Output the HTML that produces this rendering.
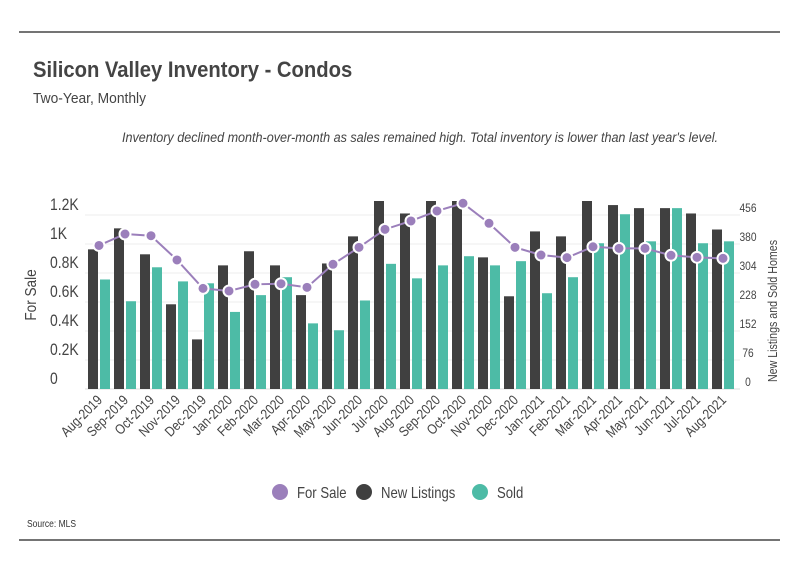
<!DOCTYPE html>
<html><head><meta charset="utf-8"><style>
html,body{margin:0;padding:0;background:#fff;}
svg{display:block;}
text{font-family:"Liberation Sans Narrow","Liberation Sans",sans-serif;}
</style></head><body>
<svg id="c" width="799" height="575" viewBox="0 0 799 575">
<line x1="19" y1="32" x2="780" y2="32" stroke="#222" stroke-width="1.3"/>
<text transform="translate(33,77) scale(0.92,1)" font-size="22" font-weight="bold" fill="#444">Silicon Valley Inventory - Condos</text>
<text transform="translate(33,103) scale(0.92,1)" font-size="15" fill="#444">Two-Year, Monthly</text>
<text transform="translate(420,142) scale(0.9,1)" font-size="14" font-style="italic" fill="#444" text-anchor="middle">Inventory declined month-over-month as sales remained high. Total inventory is lower than last year's level.</text>
<text transform="translate(27,527) scale(0.85,1)" font-size="10" fill="#333">Source:  MLS</text>
<line x1="19" y1="540" x2="780" y2="540" stroke="#222" stroke-width="1.3"/>
<g id="grid"></g><g id="bars"></g><g id="line"></g><g id="axes"></g>
<text transform="translate(36,295) rotate(-90) scale(0.85,1)" font-size="16" fill="#444" text-anchor="middle">For Sale</text>
<text transform="translate(777,311) rotate(-90) scale(0.82,1)" font-size="13" fill="#444" text-anchor="middle">New Listings and Sold Homes</text>
<g>
<g><circle cx="280" cy="492" r="8" fill="#9b7fbb"/><text transform="translate(297,498) scale(0.82,1)" font-size="16" fill="#444">For Sale</text></g>
<g><circle cx="364" cy="492" r="8" fill="#404040"/><text transform="translate(381,498) scale(0.82,1)" font-size="16" fill="#444">New Listings</text></g>
<g><circle cx="480" cy="492" r="8" fill="#4dbba6"/><text transform="translate(497,498) scale(0.82,1)" font-size="16" fill="#444">Sold</text></g>
</g>
</svg>
<script>
const months=["Aug-2019","Sep-2019","Oct-2019","Nov-2019","Dec-2019","Jan-2020","Feb-2020","Mar-2020","Apr-2020","May-2020","Jun-2020","Jul-2020","Aug-2020","Sep-2020","Oct-2020","Nov-2020","Dec-2020","Jan-2021","Feb-2021","Mar-2021","Apr-2021","May-2021","Jun-2021","Jul-2021","Aug-2021"];
const newListings=[366,421,353,222,130,324,361,324,246,329,400,500,460,500,500,345,243,413,400,500,482,474,474,460,418];
const sold=[287,230,319,282,277,202,246,293,172,154,232,328,290,324,348,324,335,251,293,382,458,387,474,382,387];
const forSale=[990,1069,1057,890,694,676,722,726,701,860,977,1101,1159,1228,1281,1143,977,924,906,981,970,970,922,908,901];
const leftTicks=[0,200,400,600,800,1000,1200];
const leftTickLabels=["0","0.2K","0.4K","0.6K","0.8K","1K","1.2K"];
const rightTicks=[0,76,152,228,304,380,456];

const NS="http://www.w3.org/2000/svg";
const y0=389,yTop=215,clipTop=201;
const yL=v=>y0-(v/1200)*(y0-yTop);
const yR=v=>Math.max(clipTop,y0-(v/456)*(y0-yTop));
const gx=i=>88+i*26;
function mk(tag,attrs,parent){const e=document.createElementNS(NS,tag);for(const k in attrs)e.setAttribute(k,attrs[k]);parent.appendChild(e);return e;}
const grid=document.getElementById('grid'),bars=document.getElementById('bars'),line=document.getElementById('line'),axes=document.getElementById('axes');
leftTicks.forEach((t,i)=>{
  const y=yL(t);
  const g=mk('line',{x1:85,x2:740,y1:y,y2:y,stroke:i==0?'#ddd':'#ececec','stroke-width':1},grid);
  
  
  const tx=mk('text',{transform:`translate(50,${y-5}) scale(0.82,1)`,'font-size':17,fill:'#444'},axes);tx.textContent=leftTickLabels[i];
  
  
});
rightTicks.forEach(t=>{
  const y=y0-(t/456)*(y0-yTop);
  const tx=mk('text',{transform:`translate(748,${y-3}) scale(0.85,1)`,'font-size':12,fill:'#444','text-anchor':'middle'},axes);tx.textContent=t;
  
  
});
months.forEach((m,i)=>{
  const x=gx(i);
  let b=mk('rect',{x:x,y:yR(newListings[i]),width:10,height:y0-yR(newListings[i]),fill:'#404040'},bars);
  
  
  b=mk('rect',{x:x+12,y:yR(sold[i]),width:10,height:y0-yR(sold[i]),fill:'#4dbba6'},bars);
  
  
  const tx=mk('text',{transform:`translate(${x+15},${y0+12}) rotate(-45) scale(0.85,1)`,'font-size':14,fill:'#444','text-anchor':'end'},axes);
  tx.textContent=m;
  
  
});
const pts=forSale.map((v,i)=>(gx(i)+11)+','+yL(v)).join(' ');
const pl=mk('polyline',{points:pts,fill:'none',stroke:'#9b7fbb','stroke-width':2},line);


forSale.forEach((v,i)=>{
  const c=mk('circle',{cx:gx(i)+11,cy:yL(v),r:5.5,fill:'#9b7fbb',stroke:'#fff','stroke-width':2},line);
  
  
});
</script>
</body></html>
